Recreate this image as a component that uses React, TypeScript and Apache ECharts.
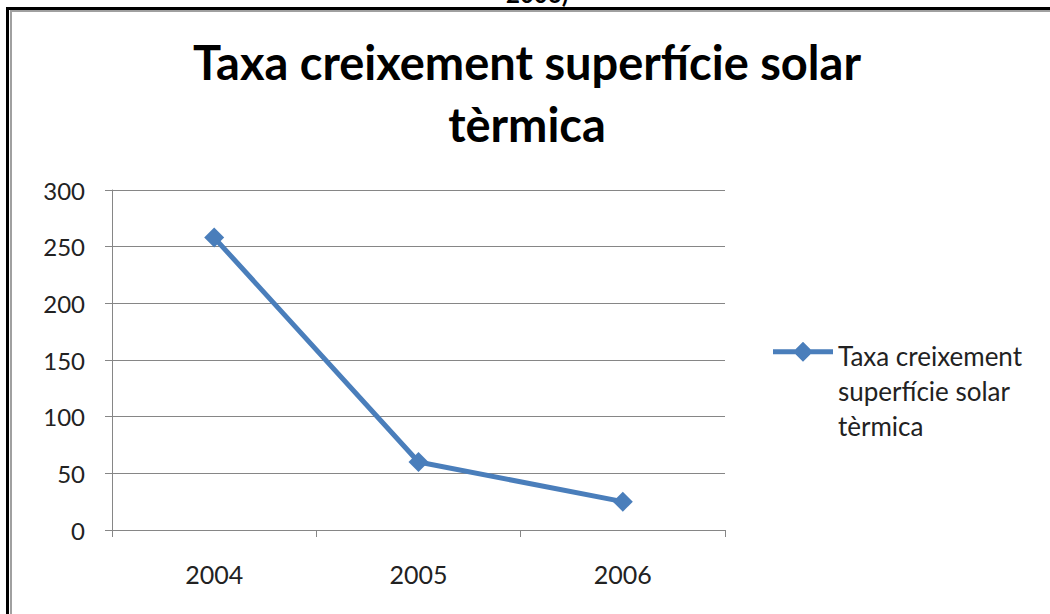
import React, { useEffect, useRef } from "react";
import * as echarts from "echarts";

const categories = ["2004", "2005", "2006"];
const seriesName = "Taxa creixement superfície solar tèrmica";
const values = [258, 60, 25];
const yTicks = [0, 50, 100, 150, 200, 250, 300];

const FONT = "Lato, 'Open Sans', sans-serif";
const BLUE = "#4a7ebb";
const GRAY = "#868686";

// legend icon: line with a diamond, anchored to the top of a 60x105 box
const LEGEND_ICON =
  "path://M0 15L60 15L60 20L0 20Z" +
  "M30 7.5L40 17.5L30 27.5L20 17.5Z" +
  "M0 105L0.01 105L0 104.99Z";

export default function App() {
  const ref = useRef<HTMLDivElement>(null);
  useEffect(() => {
    if (!ref.current) return;
    const chart = echarts.init(ref.current, undefined, { renderer: "svg" });
    chart.setOption({
      animation: false,
      backgroundColor: "#ffffff",
      title: {
        text: "Taxa creixement superfície solar\ntèrmica",
        left: 522,
        textAlign: "center",
        top: 26,
        textStyle: {
          fontFamily: FONT,
          fontWeight: "bold",
          fontSize: 47,
          lineHeight: 62,
          color: "#000",
        },
      },
      legend: {
        left: 768,
        top: 333,
        orient: "vertical",
        itemWidth: 60,
        itemHeight: 105,
        itemGap: 6,
        formatter: () => "Taxa creixement\nsuperfície solar\ntèrmica",
        textStyle: {
          fontFamily: FONT,
          fontSize: 26,
          lineHeight: 35,
          color: "#222",
        },
        data: [{ name: seriesName, icon: LEGEND_ICON }],
      },
      grid: { left: 112, right: 325, top: 190, bottom: 84, containLabel: false },
      xAxis: {
        type: "category",
        data: categories,
        boundaryGap: true,
        axisLine: { lineStyle: { color: GRAY, width: 1 } },
        axisTick: { show: true, length: 7, lineStyle: { color: GRAY } },
        axisLabel: {
          fontFamily: FONT,
          fontSize: 25,
          color: "#222",
          margin: 31,
        },
      },
      yAxis: {
        type: "value",
        min: 0,
        max: 300,
        interval: 50,
        axisLine: { show: true, lineStyle: { color: GRAY, width: 1 } },
        axisTick: { show: true, length: 7, lineStyle: { color: GRAY } },
        splitLine: { lineStyle: { color: GRAY, width: 1 } },
        axisLabel: {
          fontFamily: FONT,
          fontSize: 24,
          color: "#222",
          margin: 27,
          formatter: (v: number) => (yTicks.includes(v) ? String(v) : ""),
        },
      },
      series: [
        {
          name: seriesName,
          type: "line",
          data: values,
          symbol: "diamond",
          symbolSize: 20,
          lineStyle: { color: BLUE, width: 5 },
          itemStyle: { color: BLUE },
        },
      ],
      graphic: [
        {
          type: "text",
          left: 506,
          top: -19,
          style: {
            text: "2006)",
            fontFamily: FONT,
            fontWeight: "bold",
            fontSize: 24,
            fill: "#000",
          },
        },
        {
          type: "polyline",
          shape: { points: [[7.5, 614], [7.5, 8.5], [1050, 8.5]] },
          style: { stroke: "#000", lineWidth: 3, fill: "none" },
        },
        {
          type: "polyline",
          shape: { points: [[11, 614], [11, 11], [1050, 11]] },
          style: { stroke: "#a0a0a0", lineWidth: 2, fill: "none" },
        },
      ],
    });
    return () => chart.dispose();
  }, []);
  return (
    <div
      ref={ref}
      style={{ position: "fixed", left: 0, top: 0, width: 1050, height: 614 }}
    />
  );
}
